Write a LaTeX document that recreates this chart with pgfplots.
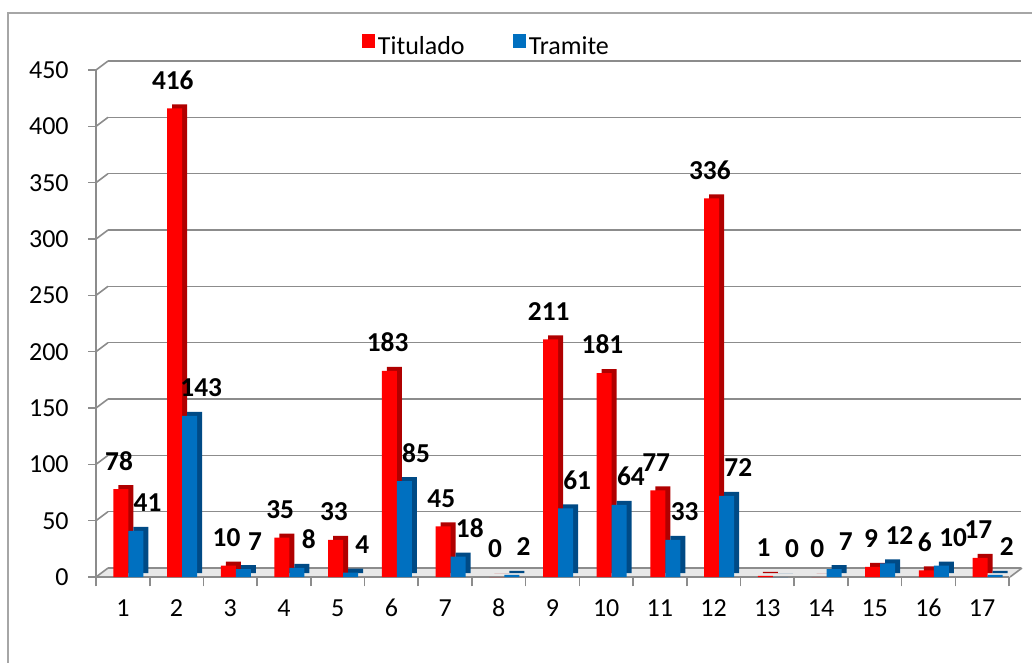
\documentclass[border=0pt]{standalone}
\usepackage{pgfplots}
\usepackage{pgfplotstable}
\pgfplotsset{compat=1.18}
\usepackage{fontspec}
\setmainfont{Carlito}
\definecolor{xred}{HTML}{FF0000}
\definecolor{xredd}{HTML}{B00000}
\definecolor{xblue}{HTML}{0070C0}
\definecolor{xblued}{HTML}{004A85}
\definecolor{gridc}{HTML}{8C8C8C}
\pgfplotstableread{
cat tit tra
1 78 41
2 416 143
3 10 7
4 35 8
5 33 4
6 183 85
7 45 18
8 0 2
9 211 61
10 181 64
11 77 33
12 336 72
13 1 0
14 0 7
15 9 12
16 6 10
17 17 2
}\datatab
\begin{document}
\begin{tikzpicture}
\begin{scope}[x=0.75pt,y=-0.75pt]
% frame
\draw[gray!70, line width=1.1pt] (1040,13) -- (8,13) -- (8,670);
% floor
\fill[gray!18] (96,577) -- (108,568) -- (1022,568) -- (1010,577) -- cycle;
\draw[gridc, line width=1.2pt] (1010,577) -- (1022,568);
\foreach \i in {0,...,9} \draw[gridc, line width=1.2pt] (96,{577-\i*56.333}) -- ++(12,-9);
\end{scope}
\begin{axis}[
  at={(72pt,-432.75pt)}, anchor=south west,
  scale only axis, width=684.75pt, height=380.25pt,
  xmin=0.5, xmax=17.5, ymin=0, ymax=450,
  clip=false,
  axis x line*=bottom, axis y line*=left,
  axis line style={gridc, line width=1.2pt, -},
  ytick={0,50,...,450},
  xtick={1,...,17},
  minor xtick={0.5,1.5,...,17.5},
  major x tick style={draw=none},
  minor x tick style={gridc, line width=1.2pt},
  y tick style={gridc, line width=1.2pt},
  tick align=outside,
  major tick length=6pt, minor tick length=7pt,
  ymajorgrids,
  major grid style={gridc, line width=1.2pt, xshift=9pt, yshift=6.75pt},
  tick label style={font=\fontsize{19.5}{23}\selectfont},
  yticklabel style={xshift=-11pt},
  xticklabel style={anchor=north, text height=13pt, text depth=0pt, yshift=-7pt},
  /pgf/number format/assume math mode=true,
  legend style={at={(0.428,1.047)}, anchor=center, draw=none, fill=none,
    font=\fontsize{19.5}{23}\selectfont, legend columns=2,
    /tikz/every even column/.append style={column sep=34pt}},
  legend image code/.code={\fill[#1] (-5pt,-1pt) rectangle (5pt,9pt);},
  every node near coord/.append style={font=\fontsize{20.5}{24}\selectfont\bfseries, inner sep=0pt, yshift=14pt, anchor=south, text=black},
]
\addplot[ybar, bar width=11.25pt, bar shift=-1.5pt, fill=xredd, draw=none, forget plot, xshift=3.75pt, yshift=3pt] table[x=cat,y=tit] {\datatab};
\addplot[ybar, bar width=11.25pt, bar shift=-1.5pt, fill=xred, draw=none] table[x=cat,y=tit] {\datatab};
\addplot[ybar, bar width=11.25pt, bar shift=9.75pt, fill=xblued, draw=none, forget plot, xshift=3.75pt, yshift=3pt] table[x=cat,y=tra] {\datatab};
\addplot[ybar, bar width=11.25pt, bar shift=9.75pt, fill=xblue, draw=none] table[x=cat,y=tra] {\datatab};
\legend{Titulado,Tramite}
% value labels
\addplot[draw=none, mark=none, forget plot, nodes near coords] table[x expr=\thisrow{cat}-0.07, y=tit] {\datatab};
\addplot[draw=none, mark=none, forget plot, nodes near coords] table[x expr=\thisrow{cat}+0.46, y=tra] {\datatab};
\end{axis}
\pgfresetboundingbox
\useasboundingbox (0,0) rectangle (774pt,-496.5pt);
\end{tikzpicture}
\end{document}
